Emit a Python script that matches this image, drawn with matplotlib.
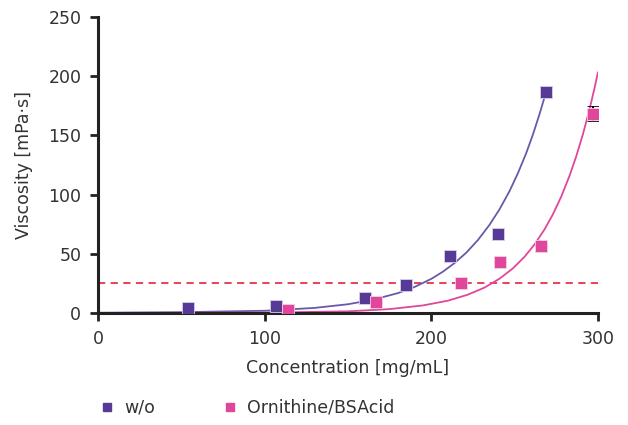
import matplotlib
matplotlib.use('Agg')
import matplotlib.pyplot as plt
from matplotlib.lines import Line2D

# Measured viscosity data
wo_conc = [54, 107, 160, 185, 211, 240, 269]
wo_visc = [4.5, 6, 13, 23.5, 48.5, 66.5, 187]
wo_err = [0, 0, 0, 0, 0, 0, 4]

orn_conc = [114, 167, 218, 241, 266, 297]
orn_visc = [2.5, 9, 25, 43, 56.5, 168.5]
orn_err = [0, 0, 0, 0, 0, 6.5]

# Fitted curves
wo_fit_x = [0, 50, 100, 130, 150, 165, 180, 190, 200, 207, 214, 221, 228, 235,
            241, 247, 252, 257, 261, 265, 269]
wo_fit_y = [0.2, 0.7, 1.9, 4.3, 7.4, 11.2, 16.8, 22, 28.8, 34.9, 42.2, 50.9, 61.6, 74.5,
            87.6, 103, 118, 135, 150.6, 168, 187]

orn_fit_x = [0, 100, 150, 175, 195, 210, 222, 232, 241, 249, 256, 262, 268, 273,
             278, 283, 287, 291, 295, 298, 300]
orn_fit_y = [0.1, 0.3, 1.4, 3.3, 6.4, 10.4, 15.5, 21.5, 29, 37.7, 47.5, 57.9, 70.6, 83.3,
             98.2, 115.9, 132.2, 150.8, 172, 190, 203]

limit = 25

purple = '#563a96'
purple_line = '#6a58aa'
pink = '#e0479a'
red = '#e8334a'

fig, ax = plt.subplots(figsize=(6.28, 4.25), dpi=100)
fig.subplots_adjust(left=0.156, right=0.952, top=0.96, bottom=0.2635)

ax.plot(wo_fit_x, wo_fit_y, color=purple_line, lw=1.3, zorder=2)
ax.plot(orn_fit_x, orn_fit_y, color=pink, lw=1.3, zorder=2)
ax.plot([0, 300], [limit, limit], color=red, lw=1.3, ls=(0, (4, 3)), zorder=1)

ax.errorbar(wo_conc, wo_visc, yerr=wo_err, fmt='s', color=purple, ms=8,
            mec='#d8d0ea', mew=0.6, ecolor='black', elinewidth=1.5, capsize=4,
            capthick=1.5, zorder=3)
ax.errorbar(orn_conc, orn_visc, yerr=orn_err, fmt='s', color=pink, ms=8,
            mec='#f6d0e4', mew=0.6, ecolor='black', elinewidth=1.5, capsize=4,
            capthick=1.5, zorder=3)

ax.set_xlim(0, 300)
ax.set_ylim(0, 250)
ax.set_xticks([0, 100, 200, 300])
ax.set_yticks([0, 50, 100, 150, 200, 250])
ax.spines['top'].set_visible(False)
ax.spines['right'].set_visible(False)
for s in ['left', 'bottom']:
    ax.spines[s].set_linewidth(2.2)
    ax.spines[s].set_color('#222222')
ax.tick_params(direction='out', length=6, width=2, color='#222222',
               labelsize=12.5, labelcolor='#333333', pad=6)

ax.set_xlabel('Concentration [mg/mL]', fontsize=12.5, color='#333333', labelpad=8)
ax.set_ylabel('Viscosity [mPa·s]', fontsize=12.5, color='#333333', labelpad=11)

handles = [Line2D([], [], ls='none', marker='s', color=purple, ms=6),
           Line2D([], [], ls='none', marker='s', color=pink, ms=6)]
fig.legend(handles, ['w/o', 'Ornithine/BSAcid'], ncol=2, frameon=False,
           loc='center left', bbox_to_anchor=(0.118, 0.04), fontsize=12.5,
           handletextpad=0.0, columnspacing=3.3, labelcolor='#333333')

plt.savefig('out.png', dpi=100)
